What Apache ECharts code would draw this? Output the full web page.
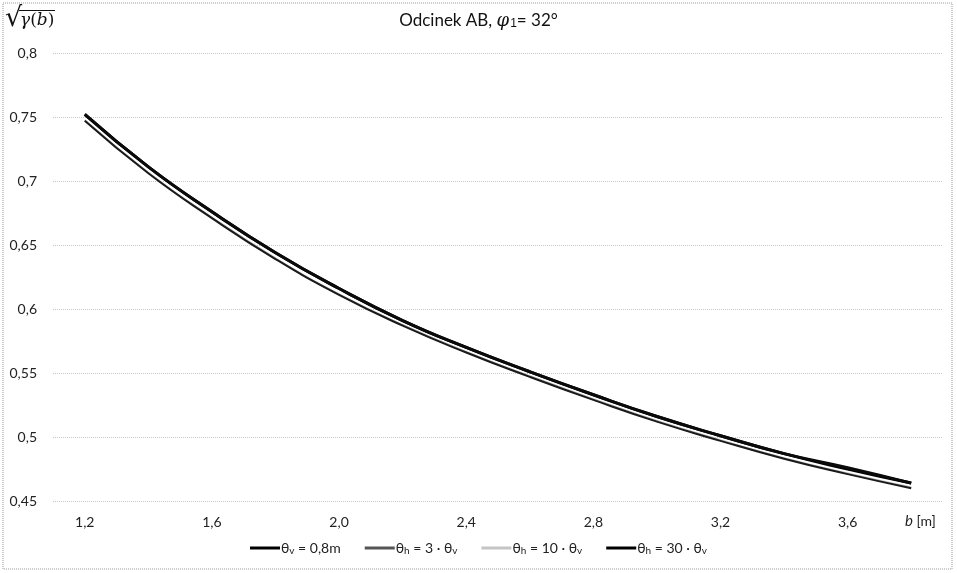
<!DOCTYPE html>
<html>
<head>
<meta charset="utf-8">
<script src="https://cdn.jsdelivr.net/npm/echarts@6/dist/echarts.min.js"></script>
<style>
  html, body { margin: 0; padding: 0; background: #fff; }
  #chart { width: 957px; height: 573px; }
</style>
</head>
<body>
<div id="chart"></div>
<script>
// Width b [m] of the strip
const bValues = [1.2, 1.4, 1.6, 1.8, 2.0, 2.2, 2.4, 2.6, 2.8, 3.0, 3.2, 3.4, 3.6, 3.8];

// sqrt(gamma(b)) for each correlation-length case
const thetaV08   = [0.752, 0.711, 0.676, 0.644, 0.616, 0.591, 0.570, 0.551, 0.533, 0.516, 0.501, 0.487, 0.475, 0.464];
const thetaH3    = [0.747, 0.706, 0.671, 0.639, 0.611, 0.587, 0.566, 0.547, 0.529, 0.512, 0.497, 0.483, 0.471, 0.460];
const thetaH10   = [0.7475, 0.7065, 0.6715, 0.6395, 0.6115, 0.5875, 0.5665, 0.5475, 0.5295, 0.5125, 0.4975, 0.4835, 0.4715, 0.4605];
const thetaH30   = [0.752, 0.711, 0.676, 0.644, 0.616, 0.591, 0.570, 0.551, 0.533, 0.516, 0.501, 0.487, 0.476, 0.464];

const seriesNames = ['θᵥ = 0,8m', 'θₕ = 3 · θᵥ', 'θₕ = 10 · θᵥ', 'θₕ = 30 · θᵥ'];
const xTickLabels = [1.2, 1.6, 2.0, 2.4, 2.8, 3.2, 3.6];

const FONT = 'Lato, "Open Sans", "DejaVu Sans", sans-serif';

function pairs(ys) { return bValues.map((b, i) => [b, ys[i]]); }
function comma(v, digits) { return v.toFixed(digits).replace('.', ','); }
// legend names: draw the subscript letters as lowered small text
function legendRich(name) { return name.replace(/ᵥ/g, '{s|v}').replace(/ₕ/g, '{s|h}'); }

const chart = echarts.init(document.getElementById('chart'));

chart.setOption({
  backgroundColor: '#ffffff',
  animation: false,
  textStyle: { fontFamily: FONT },
  grid: { left: 53, right: 14, top: 53, bottom: 72, containLabel: false },
  xAxis: {
    type: 'value',
    min: 1.1,
    max: 3.9,
    axisLine: { show: false },
    axisTick: { show: false },
    splitLine: { show: false },
    axisLabel: {
      customValues: xTickLabels,
      formatter: v => comma(v, 1),
      color: '#222',
      fontSize: 14,
      fontFamily: FONT,
      margin: 14
    }
  },
  yAxis: {
    type: 'value',
    min: 0.45,
    max: 0.8,
    interval: 0.05,
    axisLine: { show: false },
    axisTick: { show: false },
    splitLine: { lineStyle: { color: '#c8c8c8', type: 'dotted', width: 1 } },
    axisLabel: {
      formatter: v => String(Math.round(v * 100) / 100).replace('.', ','),
      color: '#222',
      fontSize: 14,
      fontFamily: FONT,
      margin: 16
    }
  },
  legend: {
    bottom: 12,
    left: 'center',
    icon: 'rect',
    itemWidth: 30,
    itemHeight: 3,
    itemGap: 24,
    formatter: legendRich,
    textStyle: {
      color: '#222', fontSize: 14, fontFamily: FONT, padding: [0, 0, 0, -4],
      rich: {
        s: { fontSize: 10, color: '#222', fontFamily: FONT, padding: [6, 0, 0, 0] }
      }
    },
    data: [
      { name: seriesNames[0], itemStyle: { color: '#000' } },
      { name: seriesNames[1], itemStyle: { color: '#555' } },
      { name: seriesNames[2], itemStyle: { color: '#c4c4c4' } },
      { name: seriesNames[3], itemStyle: { color: '#000' } }
    ]
  },
  series: [
    {
      name: seriesNames[2], type: 'line', data: pairs(thetaH10), symbol: 'none', smooth: true, z: 1,
      itemStyle: { color: '#c4c4c4' },
      lineStyle: { color: '#bdbdbd', width: 2 }
    },
    {
      name: seriesNames[1], type: 'line', data: pairs(thetaH3), symbol: 'none', smooth: true, z: 2,
      itemStyle: { color: '#555' },
      lineStyle: { color: '#1a1a1a', width: 2 }
    },
    {
      name: seriesNames[0], type: 'line', data: pairs(thetaV08), symbol: 'none', smooth: true, z: 3,
      itemStyle: { color: '#000' },
      lineStyle: { color: '#000', width: 3 }
    },
    {
      name: seriesNames[3], type: 'line', data: pairs(thetaH30), symbol: 'none', smooth: true, z: 4,
      itemStyle: { color: '#000' },
      lineStyle: { color: '#0a0a0a', width: 3 }
    }
  ],
  graphic: [
    // dotted chart frame
    {
      type: 'rect', shape: { x: 3, y: 3, width: 949, height: 566 }, silent: true,
      style: { fill: 'none', stroke: '#9a9a9a', lineWidth: 1, lineDash: [1, 1] }
    },
    // chart title
    {
      type: 'text', left: 'center', top: 12,
      style: {
        text: 'Odcinek AB, {phi|φ}{sub|1}= 32°',
        fill: '#111', font: '17px ' + FONT,
        rich: {
          phi: { fontSize: 18, fontStyle: 'italic', fontFamily: 'DejaVu Serif, serif', fill: '#111' },
          sub: { fontSize: 12, fill: '#111', padding: [6, 0, 0, 1] }
        }
      }
    },
    // y-axis quantity: square root of gamma(b)
    {
      type: 'text', left: 5, top: 5,
      style: { text: '√', fill: '#111', font: '27px "DejaVu Sans", sans-serif' }
    },
    {
      type: 'line', shape: { x1: 19, y1: 10.5, x2: 55, y2: 10.5 },
      style: { stroke: '#111', lineWidth: 1.2 }
    },
    {
      type: 'text', left: 20, top: 12,
      style: {
        text: '{g|γ}{p|(}{g|b}{p|)}',
        rich: {
          g: { fontSize: 17, fontStyle: 'italic', fontFamily: 'DejaVu Serif, serif', fill: '#111' },
          p: { fontSize: 17, fontFamily: 'DejaVu Serif, serif', fill: '#111' }
        }
      }
    },
    // x-axis unit label
    {
      type: 'text', left: 905, top: 514,
      style: {
        text: '{b|b} [m]',
        fill: '#222', font: '14px ' + FONT,
        rich: { b: { fontStyle: 'italic', fontSize: 15, fill: '#222', fontFamily: FONT } }
      }
    }
  ]
});
</script>
</body>
</html>
